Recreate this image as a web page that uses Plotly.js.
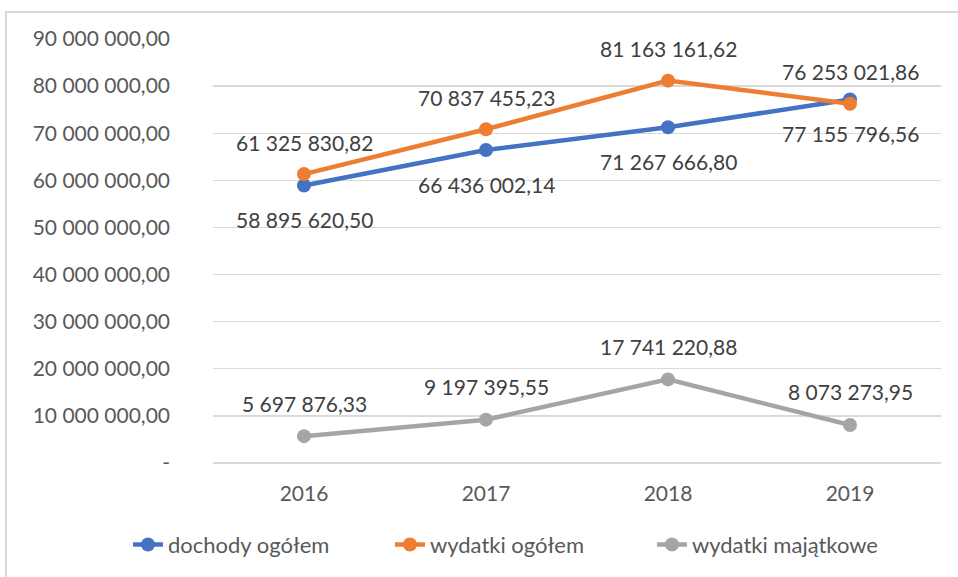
<!DOCTYPE html>
<html>
<head>
<meta charset="utf-8">
<script src="https://cdn.plot.ly/plotly-3.0.1.min.js"></script>
<style>
html,body{margin:0;padding:0;background:#fff;overflow:hidden;}
#frame{position:absolute;left:5px;top:11px;width:1000px;height:700px;border:2px solid #d9d9d9;box-sizing:border-box;}
#chart{position:absolute;left:0;top:0;width:958px;height:577px;}
</style>
</head>
<body>
<div id="frame"></div>
<div id="chart"></div>
<script>
const years = ['2016', '2017', '2018', '2019'];
const dochody = [58895620.50, 66436002.14, 71267666.80, 77155796.56];
const wydatki = [61325830.82, 70837455.23, 81163161.62, 76253021.86];
const majatkowe = [5697876.33, 9197395.55, 17741220.88, 8073273.95];
const tickVals = [0, 10000000, 20000000, 30000000, 40000000, 50000000, 60000000, 70000000, 80000000, 90000000];
const tickText = ['-', '10 000 000,00', '20 000 000,00', '30 000 000,00', '40 000 000,00', '50 000 000,00', '60 000 000,00', '70 000 000,00', '80 000 000,00', '90 000 000,00'];
const names = ['dochody ogółem', 'wydatki ogółem', 'wydatki majątkowe'];
const colors = ['#4472C4', '#ED7D31', '#A5A5A5'];

function fmt(v){
  const s = v.toFixed(2).split('.');
  const intPart = s[0].replace(/\B(?=(\d{3})+(?!\d))/g, ' ');
  return intPart + ',' + s[1];
}

const FONT = 'Lato, "Open Sans", sans-serif';
const series = [dochody, wydatki, majatkowe];
const shifts = [-34, 32, 33];
const traces = series.map((s, i) => ({
  x: years, y: s, name: names[i], type: 'scatter', mode: 'lines+markers',
  line: {color: colors[i], width: 4.5},
  marker: {color: colors[i], size: 14},
  hoverinfo: 'skip'
}));

const annotations = [];
series.forEach((s, i) => {
  s.forEach((v, j) => {
    annotations.push({
      x: j, y: v, xref: 'x', yref: 'y', text: fmt(v), showarrow: false,
      yshift: shifts[i], font: {family: FONT, size: 21, color: '#404040'}
    });
  });
});

const layout = {
  width: 958, height: 577,
  margin: {l: 213, r: 17, t: 39, b: 113},
  paper_bgcolor: 'rgba(0,0,0,0)', plot_bgcolor: 'rgba(0,0,0,0)',
  showlegend: true,
  legend: {orientation: 'h', x: -0.1168, xanchor: 'left',
    y: -0.19, yanchor: 'middle',
    font: {family: FONT, size: 22, color: '#595959'}, traceorder: 'normal',
    entrywidth: 217, entrywidthmode: 'pixels'},
  xaxis: {type: 'category', range: [-0.5, 3.5], showgrid: false, zeroline: false, showline: false,
    ticks: '', tickfont: {family: FONT, size: 21, color: '#595959'}, ticklabelstandoff: 16, fixedrange: true},
  yaxis: {range: [0, 90000000], tickvals: tickVals, ticktext: tickText, showgrid: true,
    gridcolor: '#d9d9d9', gridwidth: 1.3, zeroline: true, zerolinecolor: '#d9d9d9', zerolinewidth: 1.3,
    showline: false, ticks: '', tickfont: {family: FONT, size: 21, color: '#595959'},
    ticklabelstandoff: 42, fixedrange: true},
  annotations: annotations,
  hovermode: false
};

Plotly.newPlot('chart', traces, layout, {displayModeBar: false, staticPlot: true});
</script>
</body>
</html>
